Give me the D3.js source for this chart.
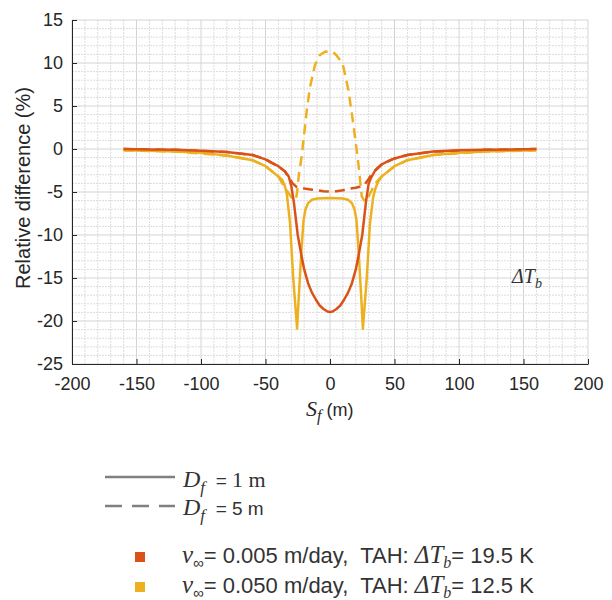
<!DOCTYPE html>
<html>
<head>
<meta charset="utf-8">
<script src="https://cdn.jsdelivr.net/npm/d3@7"></script>
<style>
  body { margin: 0; background: #fff; }
  svg { display: block; }
</style>
</head>
<body>
<div id="chart"></div>
<script>
// S_f (m) and relative difference (%)
// D_f = 1 m, v = 0.005 m/day
const sOrangeSolid = [-160, -140, -120, -100, -80, -60, -50, -45, -40, -35, -32, -30, -28, -25, -22, -20, -17, -14, -11, -8, -5, -2, 0,
                      2, 5, 8, 11, 14, 17, 20, 22, 25, 28, 30, 32, 35, 40, 45, 50, 60, 80, 100, 120, 140, 160];
const vOrangeSolid = [0, -0.05, -0.1, -0.2, -0.35, -0.7, -1.2, -1.65, -2.0, -2.6, -3.2, -4.3, -6.2, -10.0, -12.5, -14.0, -15.6, -16.7, -17.5, -18.2, -18.6, -18.9, -18.95,
                      -18.9, -18.6, -18.2, -17.5, -16.7, -15.6, -14.0, -12.5, -10.0, -6.0, -4.0, -3.3, -2.5, -1.8, -1.4, -1.1, -0.7, -0.3, -0.15, -0.1, -0.05, 0];

// D_f = 1 m, v = 0.050 m/day
const sYellowSolid = [-160, -140, -120, -100, -80, -60, -50, -45, -40, -37, -35, -33.5, -31, -28.5, -25.5, -24.5, -23, -22, -20.5, -19, -17, -14, -10, 0,
                      10, 14, 17, 19, 20.5, 22, 23, 24.5, 25.5, 28.5, 31, 33.5, 35, 37, 40, 45, 50, 60, 80, 100, 120, 140, 160];
const vYellowSolid = [-0.15, -0.2, -0.3, -0.45, -0.75, -1.3, -2.0, -2.6, -3.2, -3.6, -4.3, -5.2, -8.6, -15.0, -20.9, -18.0, -14.0, -11.4, -8.3, -7.0, -6.3, -5.9, -5.75, -5.7,
                      -5.75, -5.9, -6.3, -7.0, -8.3, -11.4, -14.0, -18.0, -20.9, -15.0, -8.6, -5.6, -4.7, -3.9, -3.2, -2.6, -2.0, -1.3, -0.7, -0.45, -0.3, -0.2, -0.15];

// D_f = 5 m, v = 0.005 m/day
const sOrangeDash = [-160, -120, -80, -60, -50, -40, -35, -32, -29, -26, -20, -15, -10, -5, 0, 5, 10, 15, 20, 23, 26, 29, 32, 35, 40, 50, 60, 80, 120, 160];
const vOrangeDash = [0, -0.1, -0.35, -0.7, -1.2, -2.0, -2.6, -3.3, -4.0, -4.4, -4.6, -4.7, -4.8, -4.9, -4.95, -4.9, -4.8, -4.6, -4.5, -4.4, -4.3, -3.7, -3.0, -2.5, -1.8, -1.1, -0.7, -0.3, -0.1, 0];

// D_f = 5 m, v = 0.050 m/day
const sYellowDash = [-160, -120, -80, -60, -50, -40, -35, -30, -26.5, -25.5, -24, -22, -20, -18, -15.5, -11.6, -8, -4, -1, 2, 5, 8, 10.3, 14.2, 18, 22, 24.6, 26.5, 28.5, 31, 35, 40, 50, 60, 80, 120, 160];
const vYellowDash = [-0.15, -0.3, -0.75, -1.3, -2.0, -3.2, -4.5, -5.6, -5.9, -5.0, -2.8, -0.9, 1.8, 4.5, 7.2, 9.8, 10.9, 11.3, 11.35, 11.3, 10.9, 10.3, 9.6, 6.9, 3.0, -1.7, -5.5, -6.0, -6.0, -5.2, -4.0, -3.2, -2.0, -1.3, -0.7, -0.3, -0.15];

const xTicks = [-200, -150, -100, -50, 0, 50, 100, 150, 200];
const yTicks = [15, 10, 5, 0, -5, -10, -15, -20, -25];

const orange = "#D95319", yellow = "#EDB120";

const svg = d3.select("#chart").append("svg")
    .attr("width", 612)
    .attr("height", 600);

const x = d3.scaleLinear().domain([-200, 200]).range([72, 588]);
const y = d3.scaleLinear().domain([-25, 15]).range([364, 20]);

// grid: minor every 10 m / 1 %, major at the ticks
const grid = svg.append("g");
grid.selectAll("line.vminor")
    .data(d3.range(-200, 201, 10).filter(d => d % 50 !== 0))
    .join("line")
    .attr("x1", d => x(d)).attr("x2", d => x(d))
    .attr("y1", y(-25)).attr("y2", y(15))
    .attr("stroke", "#dcdcdc").attr("stroke-dasharray", "2,1");
grid.selectAll("line.hminor")
    .data(d3.range(-25, 16, 1).filter(d => d % 5 !== 0))
    .join("line")
    .attr("x1", x(-200)).attr("x2", x(200))
    .attr("y1", d => y(d)).attr("y2", d => y(d))
    .attr("stroke", "#dcdcdc").attr("stroke-dasharray", "2,1");
grid.selectAll("line.vmajor")
    .data(xTicks)
    .join("line")
    .attr("x1", d => x(d)).attr("x2", d => x(d))
    .attr("y1", y(-25)).attr("y2", y(15))
    .attr("stroke", "#d4d4d4");
grid.selectAll("line.hmajor")
    .data(yTicks)
    .join("line")
    .attr("x1", x(-200)).attr("x2", x(200))
    .attr("y1", d => y(d)).attr("y2", d => y(d))
    .attr("stroke", "#d4d4d4");

// axes (plain hyphen minus like the original)
const fmt = d => String(d);
const xAxis = svg.append("g")
    .attr("transform", "translate(0," + y(-25) + ")")
    .call(d3.axisBottom(x).tickValues(xTicks).tickFormat(fmt).tickSizeInner(-5).tickSizeOuter(0).tickPadding(13));
const yAxis = svg.append("g")
    .attr("transform", "translate(" + x(-200) + ",0)")
    .call(d3.axisLeft(y).tickValues(yTicks).tickFormat(fmt).tickSizeInner(-5).tickSizeOuter(0).tickPadding(9));
[xAxis, yAxis].forEach(function (a) {
    a.selectAll("path, line").attr("stroke", "#262626");
    a.selectAll("text")
        .attr("fill", "#262626")
        .style("font-family", "'Liberation Sans', Arial, sans-serif")
        .style("font-size", "18px");
});

// curves
const line = d3.line().x(d => x(d[0])).y(d => y(d[1]));
const series = [
    {s: sOrangeDash, v: vOrangeDash, c: orange, dash: "10,6"},
    {s: sYellowDash, v: vYellowDash, c: yellow, dash: "10,6"},
    {s: sYellowSolid, v: vYellowSolid, c: yellow, dash: null},
    {s: sOrangeSolid, v: vOrangeSolid, c: orange, dash: null}
];
series.forEach(function (d) {
    svg.append("path")
        .datum(d3.zip(d.s, d.v))
        .attr("fill", "none")
        .attr("stroke", d.c)
        .attr("stroke-width", 2.5)
        .attr("stroke-linejoin", "round")
        .attr("stroke-dasharray", d.dash)
        .attr("d", line);
});

const serif = "'Liberation Serif', 'Times New Roman', serif";
const sans = "'Liberation Sans', Arial, sans-serif";

// helper: write a run of pieces into one text element
function richText(g, px, py, pieces) {
    const t = g.append("text").attr("x", px).attr("y", py)
        .attr("fill", "#333").style("white-space", "pre");
    pieces.forEach(function (p) {
        t.append("tspan")
            .attr("dy", p.dy || 0)
            .style("font-family", p.serif ? serif : sans)
            .style("font-style", p.italic ? "italic" : "normal")
            .style("font-size", p.size + "px")
            .text(p.t);
    });
    return t;
}

// y label
svg.append("text")
    .attr("transform", "translate(30,188) rotate(-90)")
    .attr("text-anchor", "middle")
    .attr("fill", "#262626")
    .style("font-family", sans)
    .style("font-size", "20px")
    .text("Relative difference (%)");

// x label
richText(svg, 306, 416, [
    {t: "S", serif: true, italic: true, size: 22},
    {t: "f", serif: true, italic: true, size: 16, dy: 5},
    {t: " (m)", size: 18, dy: -5}
]).attr("fill", "#262626");

// annotation
richText(svg, 512, 283, [
    {t: "ΔT", serif: true, italic: true, size: 20},
    {t: "b", serif: true, italic: true, size: 14, dy: 5}
]);

// legend: line styles
const legend = svg.append("g");
legend.append("line")
    .attr("x1", 105).attr("x2", 175).attr("y1", 477).attr("y2", 477)
    .attr("stroke", "#808080").attr("stroke-width", 2.5);
legend.append("line")
    .attr("x1", 105).attr("x2", 175).attr("y1", 506).attr("y2", 506)
    .attr("stroke", "#808080").attr("stroke-width", 2.5)
    .attr("stroke-dasharray", "17,10");
richText(legend, 183, 487, [
    {t: "D", serif: true, italic: true, size: 24},
    {t: "f", serif: true, italic: true, size: 17, dy: 6},
    {t: "  = ", size: 19, dy: -6},
    {t: "1 m", serif: true, size: 22}
]);
richText(legend, 183, 515, [
    {t: "D", serif: true, italic: true, size: 24},
    {t: "f", serif: true, italic: true, size: 17, dy: 6},
    {t: "  = 5 m", size: 19, dy: -6}
]);

// legend: colours
const legendRows = [
    {c: orange, v: "0.005", dt: "19.5", y: 563},
    {c: yellow, v: "0.050", dt: "12.5", y: 593}
];
legendRows.forEach(function (r) {
    legend.append("rect")
        .attr("x", 135).attr("y", r.y - 11).attr("width", 10).attr("height", 10)
        .attr("fill", r.c);
    richText(legend, 182, r.y, [
        {t: "v", serif: true, italic: true, size: 25},
        {t: "∞", size: 15, dy: 5},
        {t: "= " + r.v + " m/day,  TAH: ", size: 22, dy: -5},
        {t: "ΔT", serif: true, italic: true, size: 25},
        {t: "b", serif: true, italic: true, size: 16, dy: 5},
        {t: "= " + r.dt + " K", size: 22, dy: -5}
    ]);
});
</script>
</body>
</html>
